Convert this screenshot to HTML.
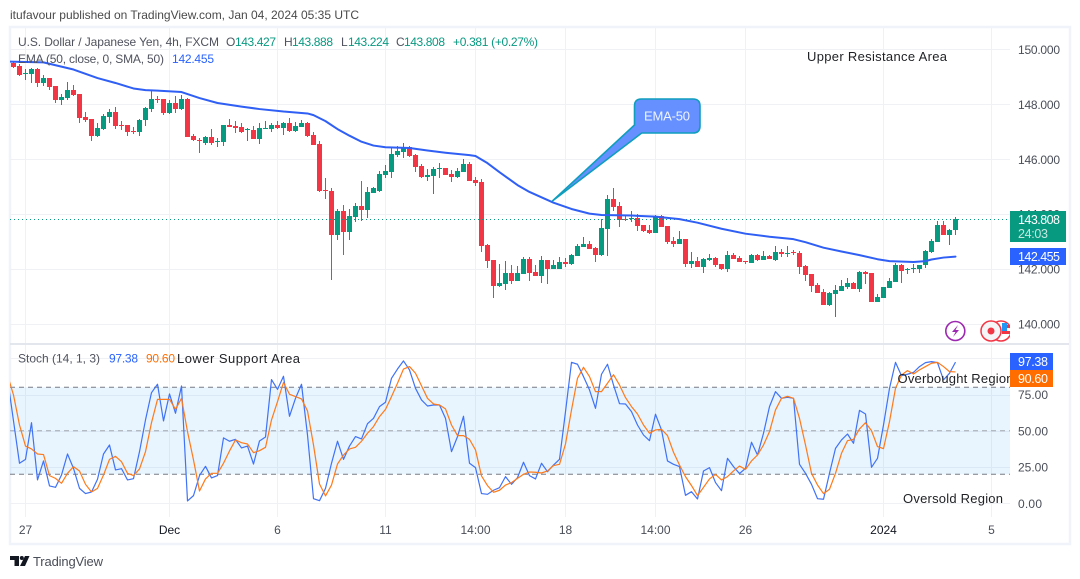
<!DOCTYPE html>
<html lang="en">
<head>
<meta charset="utf-8">
<title>USD/JPY 4h chart</title>
<style>
html,body{margin:0;padding:0;background:#fff;width:1080px;height:579px;overflow:hidden}
svg{display:block;font-family:"Liberation Sans",sans-serif}
text{white-space:pre}
</style>
</head>
<body>
<svg id="chart" xmlns="http://www.w3.org/2000/svg" width="1080" height="579" viewBox="0 0 1080 579">
  <defs>
    <clipPath id="price-clip"><rect x="10" y="28" width="1000" height="315"/></clipPath>
    <clipPath id="stoch-clip"><rect x="10" y="345" width="1000" height="172"/></clipPath>
    <clipPath id="icon-clip"><rect x="940" y="315" width="70" height="28"/></clipPath>
  </defs>
  <rect width="1080" height="579" fill="#ffffff"/>
  <text x="10" y="19" font-size="12" fill="#4a4a4a" textLength="349" lengthAdjust="spacing">itufavour published on TradingView.com, Jan 04, 2024 05:35 UTC</text>
  <rect x="10" y="27" width="1060" height="517" fill="#ffffff" stroke="#f0f3fa" stroke-width="2.5"/>
  <g id="grid"></g>
  <rect x="10" y="387.3" width="1000" height="87" fill="#2196f3" fill-opacity="0.1"/>
  <g id="stoch-levels"></g>
  <rect x="10" y="343" width="1059" height="2" fill="#e4e6ee"/>
  <g id="candles" clip-path="url(#price-clip)"></g>
  <line x1="10" x2="1010" y1="219.5" y2="219.5" stroke="#089981" stroke-width="1" stroke-dasharray="1 3"/>
  <path id="ema" fill="none" stroke="#2f5ff5" stroke-width="2" stroke-linejoin="round" stroke-linecap="round" clip-path="url(#price-clip)"/>
  <path id="stoch-k" fill="none" stroke="#3f72f5" stroke-width="1.2" stroke-linejoin="round" clip-path="url(#stoch-clip)"/>
  <path id="stoch-d" fill="none" stroke="#ff7a1a" stroke-width="1.2" stroke-linejoin="round" clip-path="url(#stoch-clip)"/>

  <g>
    <path d="M552.7 200.7 L634.5 125 L634.5 106 Q634.5 99 641.5 99 L693 99 Q700 99 700 106 L700 126 Q700 133 693 133 L641.7 133 Z" fill="#6690ff" stroke="#0f9ebd" stroke-width="1.6" stroke-linejoin="round"/>
    <text x="644" y="120.5" font-size="13" fill="#eef3ff" textLength="46" lengthAdjust="spacing">EMA-50</text>
  </g>

  <g font-size="12" fill="#50535e">
    <text x="18" y="46" textLength="201" lengthAdjust="spacing">U.S. Dollar / Japanese Yen, 4h, FXCM</text>
    <text x="226" y="46">O</text><text x="235" y="46" fill="#089981" textLength="41" lengthAdjust="spacing">143.427</text>
    <text x="284" y="46">H</text><text x="292" y="46" fill="#089981" textLength="41" lengthAdjust="spacing">143.888</text>
    <text x="341" y="46">L</text><text x="348" y="46" fill="#089981" textLength="41" lengthAdjust="spacing">143.224</text>
    <text x="396" y="46">C</text><text x="404" y="46" fill="#089981" textLength="41" lengthAdjust="spacing">143.808</text>
    <text x="453" y="46" fill="#089981" textLength="85" lengthAdjust="spacing">+0.381 (+0.27%)</text>
  </g>
  <g font-size="12" fill="#50535e">
    <text x="18" y="63" textLength="146" lengthAdjust="spacing">EMA (50, close, 0, SMA, 50)</text>
    <text x="172" y="63" fill="#2962ff" textLength="42" lengthAdjust="spacing">142.455</text>
  </g>
  <text x="807" y="61" font-size="13" fill="#1f2024" textLength="140" lengthAdjust="spacing">Upper Resistance Area</text>

  <g font-size="12" fill="#50535e">
    <text x="18" y="362.5" textLength="82" lengthAdjust="spacing">Stoch (14, 1, 3)</text>
    <text x="109" y="362.5" fill="#2962ff" textLength="29" lengthAdjust="spacing">97.38</text>
    <text x="146" y="362.5" fill="#ff6d00" textLength="29" lengthAdjust="spacing">90.60</text>
  </g>
  <text x="177" y="363" font-size="13" fill="#1f2024" textLength="123" lengthAdjust="spacing">Lower Support Area</text>
  <text x="903" y="503" font-size="13" fill="#1f2024" textLength="100" lengthAdjust="spacing">Oversold Region</text>

  <g id="axis-labels"></g>
  <text x="897.5" y="383" font-size="13" fill="#1f2024" textLength="116" lengthAdjust="spacing">Overbought Region</text>

  <g clip-path="url(#icon-clip)">
    <g>
      <circle cx="955.3" cy="331" r="9.5" fill="#fff" stroke="#9c27b0" stroke-width="1.6"/>
      <path d="M958 325 L952 332 L955.5 332 L953 337 L959 330 L955.5 330 Z" fill="#9c27b0"/>
    </g>
    <g>
      <circle cx="1001" cy="331" r="10" fill="#fff" stroke="#f23645" stroke-width="1.5"/>
      <rect x="1002" y="325" width="8" height="3" fill="#f23645"/>
      <rect x="1002" y="331" width="8" height="3" fill="#f23645"/>
      <rect x="1002" y="323" width="5" height="8" fill="#2196f3"/>
    </g>
    <g>
      <circle cx="991" cy="331" r="10" fill="#f5f5f7" stroke="#f23645" stroke-width="1.5"/>
      <circle cx="991" cy="331" r="3.5" fill="#f23645"/>
    </g>
  </g>

  <g>
    <rect x="1010" y="211" width="56" height="31" fill="#089981"/>
    <text x="1018" y="224" font-size="12.5" fill="#ffffff" textLength="42" lengthAdjust="spacing">143.808</text>
    <text x="1018" y="238" font-size="12.5" fill="#c4e8e0" textLength="30" lengthAdjust="spacing">24:03</text>
  </g>
  <g>
    <rect x="1010" y="248" width="56" height="17" fill="#2962ff"/>
    <text x="1018" y="261" font-size="12.5" fill="#ffffff" textLength="42" lengthAdjust="spacing">142.455</text>
  </g>
  <g>
    <rect x="1010" y="353" width="43" height="17" fill="#2962ff"/>
    <text x="1018" y="366" font-size="12.5" fill="#ffffff" textLength="30" lengthAdjust="spacing">97.38</text>
  </g>
  <g>
    <rect x="1010" y="370" width="43" height="17" fill="#ff6d00"/>
    <text x="1018" y="383" font-size="12.5" fill="#ffffff" textLength="30" lengthAdjust="spacing">90.60</text>
  </g>

  <g>
    <path d="M10 556 H19 V566 H14.5 V560 H10 Z" fill="#131722"/>
    <circle cx="21.8" cy="558" r="2" fill="#131722"/>
    <path d="M25 556 H29.5 L25 566 H20 Z" fill="#131722"/>
    <text x="33" y="566" font-size="13" fill="#4a4e58" textLength="70" lengthAdjust="spacing">TradingView</text>
  </g>
</svg>
<script>
// Candle data (USD/JPY, 4h)
var opens = [
149.51,149.40,149.11,149.11,149.29,148.78,148.96,148.67,148.16,148.23,
148.52,148.38,147.54,147.46,146.85,147.10,147.54,147.72,147.25,147.25,
147.03,146.99,147.43,147.83,148.19,148.19,147.68,148.05,147.83,148.19,
146.85,146.70,146.59,146.81,146.63,146.63,147.25,147.21,147.17,147.06,
147.06,146.74,147.10,147.10,147.25,147.14,147.32,147.03,147.17,147.32,
146.88,146.55,144.88,144.84,143.24,144.11,143.35,143.89,144.30,144.15,
144.77,144.84,145.42,145.53,146.15,146.26,146.44,146.15,145.75,145.35,
145.39,145.64,145.68,145.46,145.35,145.53,145.83,145.24,145.17,142.87,
142.33,141.38,141.45,141.85,141.56,141.82,142.36,141.89,141.75,142.33,
142.00,142.00,142.26,142.18,142.47,142.80,142.91,142.77,142.51,143.46,
144.55,144.30,143.82,143.82,143.86,143.60,143.42,143.31,143.93,143.57,
143.02,142.91,143.09,142.18,142.29,142.07,142.33,142.40,142.18,142.00,
142.51,142.40,142.29,142.22,142.51,142.33,142.47,142.33,142.62,142.55,
142.62,142.58,142.11,141.82,141.42,141.16,140.69,141.09,141.20,141.34,
141.49,141.27,141.89,141.85,140.80,140.94,141.31,141.53,142.15,141.96,
142.00,142.00,142.15,142.62,142.98,143.60,143.24,143.427];
var closes = [
149.36,149.07,149.14,149.29,148.78,148.96,148.63,148.16,148.27,148.52,
148.34,147.50,147.43,146.85,147.14,147.57,147.72,147.21,147.21,146.99,
146.99,147.43,147.87,148.19,148.16,147.68,148.05,147.83,148.19,146.81,
146.70,146.66,146.81,146.59,146.66,147.25,147.17,147.14,146.99,147.10,
146.74,147.14,147.14,147.25,147.14,147.32,147.03,147.21,147.32,146.85,
146.52,144.84,144.84,143.24,144.11,143.35,143.93,144.30,144.15,144.81,
144.95,145.46,145.57,146.19,146.30,146.44,146.12,145.72,145.35,145.42,
145.64,145.68,145.42,145.35,145.57,145.83,145.21,145.13,142.84,142.29,
141.38,141.49,141.85,141.56,141.85,142.36,141.85,141.75,142.33,142.00,
142.15,142.26,142.18,142.51,142.84,142.91,142.73,142.51,143.49,144.55,
144.26,143.79,143.79,143.86,143.57,143.38,143.31,143.93,143.53,142.98,
142.91,143.09,142.18,142.29,142.07,142.36,142.40,142.15,142.00,142.51,
142.36,142.26,142.26,142.51,142.33,142.47,142.36,142.62,142.55,142.58,
142.58,142.07,141.78,141.38,141.13,140.69,141.13,141.24,141.38,141.49,
141.27,141.89,141.82,140.80,140.98,141.34,141.56,142.15,141.93,142.00,
142.04,142.15,142.66,143.02,143.60,143.24,143.42,143.808];
var highs = [
149.54,149.47,149.29,149.33,149.33,149.07,148.96,148.67,148.38,148.81,
148.70,148.38,147.72,147.46,147.32,147.65,147.83,147.90,147.39,147.25,
147.17,147.46,147.90,148.52,148.30,148.19,148.16,148.30,148.34,148.23,
146.92,146.77,146.85,147.10,146.77,147.25,147.46,147.39,147.32,147.14,
147.21,147.32,147.39,147.32,147.39,147.36,147.50,147.36,147.43,147.36,
146.99,146.66,145.32,144.95,144.19,144.33,144.19,144.40,145.21,144.99,
144.99,145.57,145.79,146.41,146.48,146.59,146.48,146.19,145.83,145.64,
145.72,145.86,145.68,145.61,145.68,146.01,145.90,145.35,145.28,142.91,
142.33,142.18,142.29,142.15,142.11,142.44,142.44,142.15,142.47,142.33,
142.33,142.44,142.40,142.55,142.91,143.17,143.02,142.80,143.82,144.70,
144.95,144.44,143.97,144.11,144.00,143.60,143.60,143.97,143.97,143.57,
143.17,143.38,143.09,142.62,142.44,142.40,142.55,142.44,142.18,142.66,
142.58,142.47,142.29,142.55,142.55,142.66,142.51,142.84,142.73,142.84,
142.69,142.66,142.15,141.82,141.49,141.27,141.16,141.42,141.60,141.67,
141.53,141.93,141.93,141.85,141.09,141.34,141.67,142.22,142.18,142.04,
142.18,142.15,142.69,143.09,143.75,143.75,143.46,143.888];
var lows = [
149.33,149.03,148.89,148.78,148.63,148.67,148.52,148.05,147.97,148.16,
148.30,147.32,147.36,146.66,146.81,147.06,147.32,147.10,147.06,146.85,
146.92,146.85,147.21,147.72,148.05,147.61,147.65,147.68,147.79,146.81,
146.66,146.23,146.52,146.52,146.44,146.48,147.17,146.95,146.95,146.66,
146.74,146.55,147.10,146.99,147.10,146.88,146.99,146.99,147.17,146.81,
146.52,144.81,144.55,141.60,143.06,142.51,143.06,143.71,143.75,143.86,
144.77,144.81,145.32,145.32,146.08,146.04,146.08,145.53,145.32,145.21,
144.73,145.32,145.42,145.17,145.32,145.53,145.21,145.02,142.62,142.04,
140.94,141.34,141.24,141.45,141.56,141.82,141.56,141.75,141.49,141.45,
142.00,142.00,142.07,142.15,142.47,142.80,142.73,142.26,142.47,142.47,
144.11,143.53,143.75,143.71,143.38,143.35,143.28,143.31,143.53,142.91,
142.80,142.91,142.07,142.04,142.07,141.85,142.29,142.07,141.96,141.89,
142.36,142.26,142.18,142.22,142.29,142.33,142.36,142.29,142.44,142.44,
142.51,141.82,141.56,141.16,141.13,140.69,140.65,140.25,141.20,141.27,
141.27,141.16,141.45,140.80,140.80,140.94,141.31,141.53,141.49,141.82,
141.85,141.85,142.04,142.58,142.98,143.24,142.87,143.224];

// EMA(50) values read at selected bars
var emaBars = [-1,5,10,14,17,20,22,24,28,31,34,38,41,45,49,50,52,54,56,58,60,62,66,69,72,76,77,79,81,84,86,90,93,96,98,103,107,111,114,118,122,126,130,132,135,138,141,144,146,150,152,153,155,157];
var emaValues = [149.56,149.53,149.27,148.96,148.78,148.58,148.52,148.50,148.45,148.23,148.05,147.92,147.83,147.74,147.67,147.61,147.39,147.10,146.86,146.64,146.50,146.44,146.41,146.32,146.24,146.15,146.12,145.86,145.53,145.06,144.81,144.42,144.19,144.02,143.97,143.95,143.91,143.82,143.69,143.47,143.29,143.18,143.09,142.98,142.78,142.64,142.51,142.36,142.29,142.26,142.29,142.35,142.42,142.455];

// Stochastic series, first value belongs to bar stochStartBar
var stochStartBar = -1;
var stochK = [
86.2,56.8,27.6,30.3,55.6,16.1,29.2,12.0,11.0,19.5,34.0,24.1,10.3,6.7,7.8,16.6,34.0,40.2,23.0,23.9,
16.1,17.0,35.6,57.5,76.3,82.1,56.8,75.4,62.1,80.9,1.6,5.3,19.1,25.5,17.5,19.1,45.1,42.8,44.1,38.2,
39.5,27.1,43.0,45.7,85.3,78.6,87.6,60.0,72.4,82.1,47.1,3.2,1.8,10.3,27.6,42.8,30.3,39.5,46.0,44.4,
54.9,58.6,66.7,69.7,86.2,92.6,98.2,92.0,79.3,71.3,67.1,67.8,67.8,58.6,35.6,46.0,60.0,27.6,24.6,6.7,
6.2,9.0,10.8,18.4,13.1,17.7,28.3,19.1,16.8,27.6,21.8,26.4,30.3,63.2,97.2,95.9,87.4,78.2,65.5,89.0,
95.9,81.6,68.7,68.5,63.2,54.0,47.1,43.2,61.4,50.6,29.2,26.9,25.3,5.5,8.0,3.0,22.3,24.6,14.3,8.7,
31.0,25.3,20.5,24.1,42.1,33.3,48.3,66.7,77.0,72.4,73.1,72.4,26.9,20.7,13.1,3.2,2.8,20.7,37.9,43.7,
47.8,41.4,64.1,61.6,24.8,31.0,54.0,79.3,97.2,88.0,89.0,90.3,94.3,97.0,97.7,97.0,85.1,89.7,97.38];
var stochD = [
88.5,74.7,54.0,39.5,37.5,34.0,33.6,19.1,17.2,13.8,20.7,25.3,22.3,13.1,7.8,10.3,19.5,30.3,32.4,28.7,
20.7,19.1,23.7,35.6,55.6,71.7,71.7,71.7,64.8,72.4,49.4,29.9,8.5,16.8,20.7,20.7,27.6,36.1,43.7,41.8,
40.9,34.9,36.3,38.6,57.5,70.1,83.4,75.2,73.6,72.0,63.7,40.2,13.3,5.1,12.6,27.1,33.3,37.5,38.6,42.8,
48.3,52.9,59.8,64.8,73.6,82.8,92.6,94.3,89.7,81.1,72.4,68.5,67.8,65.1,54.0,46.7,46.7,44.1,36.8,18.9,
12.2,7.6,9.0,12.6,14.3,17.2,20.0,21.6,21.4,20.9,22.3,26.0,26.9,40.9,64.4,86.2,93.8,87.4,77.0,77.0,
82.8,88.7,81.6,72.9,66.7,61.6,54.0,48.3,50.6,51.0,46.7,35.2,26.4,18.4,12.2,5.3,11.0,16.8,20.0,16.1,
18.4,22.3,25.7,23.4,29.2,33.3,40.2,49.4,64.4,72.4,73.8,72.4,58.6,40.2,20.7,12.6,6.7,9.7,20.7,34.5,
43.2,44.1,51.3,55.6,50.1,39.1,37.7,56.3,79.3,88.5,91.5,89.2,92.0,94.3,96.6,97.2,94.3,90.8,90.6];

// Axis ticks
var priceTicks = [150, 148, 146, 144, 142, 140];
var stochGridTicks = [100, 75, 50, 25, 0];
var stochLabelTicks = [75, 50, 25, 0];
var stochLevels = [80, 50, 20];
var timeBars = [2, 26, 44, 62, 77, 92, 107, 122, 145, 163];
var timeLabels = ['27', 'Dec', '6', '11', '14:00', '18', '14:00', '26', '2024', '5'];
var timeBold = ['Dec', '2024'];

var SVGNS = 'http://www.w3.org/2000/svg';
function xOf(bar) { return 13.5 + 6 * bar; }
function yPrice(p) { return (151.803 - p) * 27.45; }
function yStoch(v) { return 503.3 - 1.45 * v; }
function make(tag) { return document.createElementNS(SVGNS, tag); }
function linePath(bars, vals, yFn) {
  var d = '';
  for (var i = 0; i < vals.length; i++) {
    d += (i ? 'L' : 'M') + xOf(bars(i)).toFixed(2) + ' ' + yFn(vals[i]).toFixed(2);
  }
  return d;
}

var gridG = document.getElementById('grid');
var levelsG = document.getElementById('stoch-levels');
var labelsG = document.getElementById('axis-labels');
var candlesG = document.getElementById('candles');

priceTicks.forEach(function (p) {
  var ln = make('rect');
  
  
  ln.setAttribute('x', 10);
  ln.setAttribute('y', Math.round(yPrice(p)));
  ln.setAttribute('width', 1000);
  ln.setAttribute('height', 1);
  ln.setAttribute('fill', '#f0f1f4');
  gridG.appendChild(ln);
  var t = make('text');
  
  
  t.setAttribute('x', 1018);
  t.setAttribute('y', yPrice(p) + 4.5);
  t.setAttribute('font-size', '12');
  t.setAttribute('fill', '#4a4e58');
  t.setAttribute('textLength', '42');
  t.setAttribute('lengthAdjust', 'spacing');
  t.textContent = p.toFixed(3);
  labelsG.appendChild(t);
});

stochGridTicks.forEach(function (v) {
  var ln = make('rect');
  
  
  ln.setAttribute('x', 10);
  ln.setAttribute('y', Math.round(yStoch(v)));
  ln.setAttribute('width', 1000);
  ln.setAttribute('height', 1);
  ln.setAttribute('fill', '#f0f1f4');
  gridG.appendChild(ln);
});

stochLabelTicks.forEach(function (v) {
  var t = make('text');
  
  
  t.setAttribute('x', 1018);
  t.setAttribute('y', yStoch(v) + 4.5);
  t.setAttribute('font-size', '12');
  t.setAttribute('fill', '#4a4e58');
  t.setAttribute('textLength', v === 0 ? '24' : '30');
  t.setAttribute('lengthAdjust', 'spacing');
  t.textContent = v.toFixed(2);
  labelsG.appendChild(t);
});

stochLevels.forEach(function (v) {
  var ln = make('line');
  
  
  ln.setAttribute('x1', 10);
  ln.setAttribute('x2', 1010);
  ln.setAttribute('y1', yStoch(v));
  ln.setAttribute('y2', yStoch(v));
  ln.setAttribute('stroke', v === 50 ? '#a3a6ae' : '#787b86');
  ln.setAttribute('stroke-width', '1');
  ln.setAttribute('stroke-dasharray', '5 4');
  levelsG.appendChild(ln);
});

timeBars.forEach(function (b, i) {
  var vx = Math.round(xOf(b) - 0.5);
  var ln = make('rect');
  
  
  ln.setAttribute('x', vx);
  ln.setAttribute('y', 28);
  ln.setAttribute('width', 1);
  ln.setAttribute('height', 489);
  ln.setAttribute('fill', '#f0f1f4');
  gridG.appendChild(ln);
  var t = make('text');
  
  
  t.setAttribute('x', xOf(b));
  t.setAttribute('y', 534);
  t.setAttribute('font-size', '12');
  t.setAttribute('text-anchor', 'middle');
  t.setAttribute('fill', timeBold.indexOf(timeLabels[i]) >= 0 ? '#131722' : '#4a4e58');
  t.textContent = timeLabels[i];
  labelsG.appendChild(t);
});

closes.forEach(function (c, i) {
  var o = opens[i];
  var color = c >= o ? '#089981' : '#f23645';
  var cx = Math.floor(xOf(i));
  var hi = Math.round(yPrice(highs[i]));
  var lo = Math.round(yPrice(lows[i]));
  var top = Math.round(yPrice(Math.max(o, c)));
  var bot = Math.round(yPrice(Math.min(o, c)));
  var wick = make('rect');
  
  
  wick.setAttribute('x', cx);
  wick.setAttribute('y', hi);
  wick.setAttribute('width', 1);
  wick.setAttribute('height', Math.max(1, lo - hi));
  wick.setAttribute('fill', color);
  candlesG.appendChild(wick);
  var body = make('rect');
  
  
  body.setAttribute('x', cx - 2);
  body.setAttribute('y', top);
  body.setAttribute('width', 5);
  body.setAttribute('height', Math.max(1, bot - top));
  body.setAttribute('fill', color);
  candlesG.appendChild(body);
});

document.getElementById('ema').setAttribute('d', linePath(function (i) { return emaBars[i]; }, emaValues, yPrice));
document.getElementById('stoch-k').setAttribute('d', linePath(function (i) { return i + stochStartBar; }, stochK, yStoch));
document.getElementById('stoch-d').setAttribute('d', linePath(function (i) { return i + stochStartBar; }, stochD, yStoch));
</script>
</body>
</html>
